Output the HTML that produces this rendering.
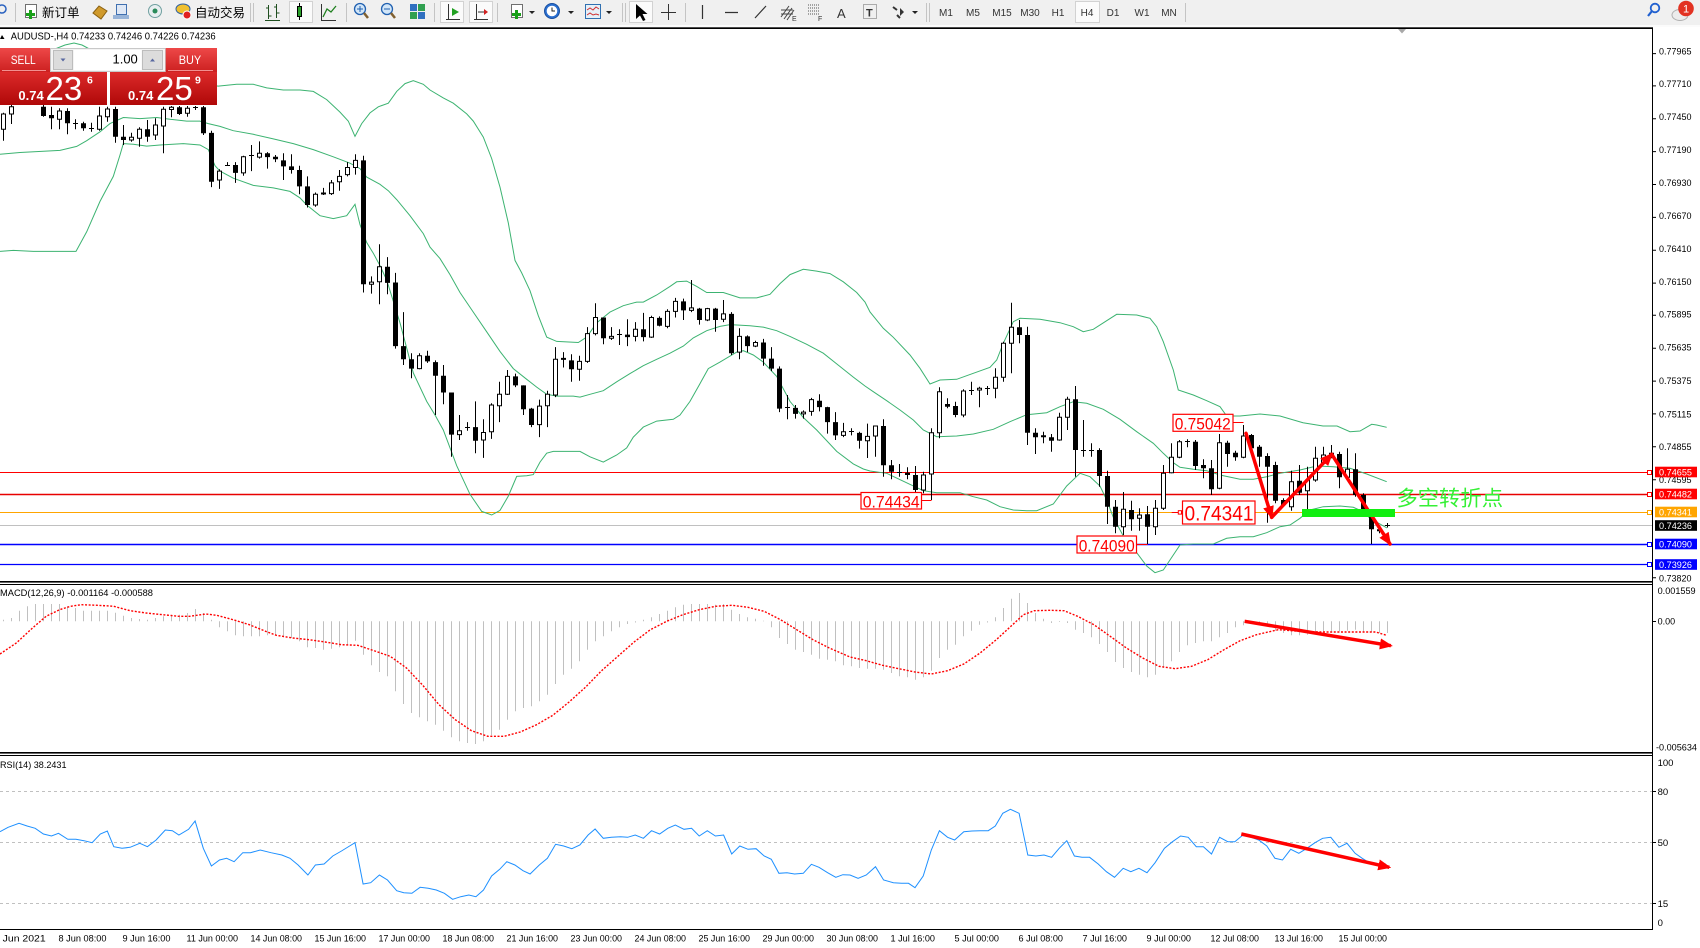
<!DOCTYPE html>
<html><head><meta charset="utf-8"><style>
html,body{margin:0;padding:0;background:#fff;}
svg{display:block;}
text{font-family:"Liberation Sans","Noto Sans CJK SC",sans-serif;}
</style></head><body>
<svg xmlns="http://www.w3.org/2000/svg" width="1700" height="948" viewBox="0 0 1700 948">
<defs>
<linearGradient id="gBtn" x1="0" y1="0" x2="0" y2="1"><stop offset="0" stop-color="#ee4848"/><stop offset="1" stop-color="#cc2020"/></linearGradient>
<linearGradient id="gPr" x1="0" y1="0" x2="0" y2="1"><stop offset="0" stop-color="#dc2a2a"/><stop offset="1" stop-color="#b00808"/></linearGradient>
<marker id="ah" markerWidth="13" markerHeight="11" refX="11" refY="5.5" orient="auto" markerUnits="userSpaceOnUse"><path d="M0,0 L13,5.5 L0,11 Z" fill="#ff0000"/></marker>
</defs>
<rect width="1700" height="948" fill="#fff"/>

<!-- TOOLBAR -->
<rect x="0" y="0" width="1700" height="25" fill="#f0f0f0"/>
<rect x="0" y="25" width="1700" height="2" fill="#fbfbfb"/>
<rect x="0" y="27.3" width="1653" height="1.7" fill="#000"/>
<g stroke="#c4c4c4" stroke-width="1">
<path d="M15.5 3V22M250.5 3V22M253.5 3V22M346.5 3V22M434.5 3V22M497.5 3V22M622.5 3V22M625.5 3V22M685.5 3V22M926.5 3V22M929.5 3V22M1185.5 3V22"/>
</g>
<!-- highlight boxes -->
<g fill="#fbfbfb" stroke="#d2d2d2">
<rect x="289.5" y="1.5" width="23" height="21"/>
<rect x="440.5" y="1.5" width="23" height="21"/>
<rect x="469.5" y="1.5" width="23" height="21"/>
<rect x="629.5" y="1.5" width="23" height="21"/>
<rect x="1075.5" y="1.5" width="24" height="21"/>
</g>
<!-- icons -->
<circle cx="2" cy="9" r="4" fill="none" stroke="#2a62c0" stroke-width="1.5"/>
<rect x="25.5" y="4.5" width="11" height="13" fill="#fff" stroke="#707070"/>
<rect x="26" y="13" width="9" height="3" fill="#1aa01a"/><rect x="29" y="10" width="3" height="9" fill="#1aa01a"/>
<text x="42" y="17" font-size="12.5" fill="#000">新订单</text>
<polygon points="93,13 99,6 107,11 101,19" fill="#d09a2c" stroke="#8a6010"/>
<rect x="116.5" y="4.5" width="10" height="10" fill="#dfe8f5" stroke="#4070b0"/><rect x="113" y="15" width="16" height="4" fill="#98b4d8"/>
<circle cx="155" cy="11" r="6.5" fill="#e8eef0" stroke="#70a0a0"/><circle cx="155" cy="11" r="2.5" fill="#2a8a5a"/>
<ellipse cx="183" cy="9" rx="7" ry="5" fill="#f0c030" stroke="#3060a0"/><circle cx="187" cy="15" r="4" fill="#e02020" stroke="#fff"/>
<text x="195" y="17" font-size="12.5" fill="#000">自动交易</text>
<path d="M268.5 5V19M266 8h2.5M268.5 16h3M276.5 4V18M274 7h2.5M276.5 13h3M265 20.5h15" stroke="#1f4f1f" fill="none"/>
<path d="M299.5 3V20" stroke="#000"/><rect x="297.5" y="6.5" width="4" height="10" fill="#2aa02a" stroke="#000"/>
<path d="M321.5 4V20.5H336" stroke="#333" fill="none"/><polyline points="323,17 327,9 331,12 336,6" stroke="#1f801f" fill="none" stroke-width="1.3"/>
<circle cx="360" cy="9" r="5.5" fill="#d2e6f8" stroke="#2060b0" stroke-width="1.3"/><path d="M357 9h6M360 6v6" stroke="#2060b0"/><path d="M364 13L368 18" stroke="#806030" stroke-width="2.5"/>
<circle cx="387" cy="9" r="5.5" fill="#d2e6f8" stroke="#2060b0" stroke-width="1.3"/><path d="M384 9h6" stroke="#2060b0"/><path d="M391 13L395 18" stroke="#806030" stroke-width="2.5"/>
<rect x="410" y="4" width="7" height="7" fill="#3070c0"/><rect x="418" y="4" width="7" height="7" fill="#30a050"/><rect x="410" y="12" width="7" height="7" fill="#30a050"/><rect x="418" y="12" width="7" height="7" fill="#3070c0"/>
<path d="M448.5 4V20M446 19.5h14" stroke="#333" fill="none"/><polygon points="452,8 459,12 452,16" fill="#20a020"/>
<path d="M476.5 4V20M474 19.5h14M478 12h7" stroke="#333" fill="none"/><polygon points="484,9 488,12 484,15" fill="#d02020"/>
<rect x="511.5" y="4.5" width="11" height="13" fill="#fff" stroke="#707070"/><rect x="512" y="13" width="9" height="3" fill="#1aa01a"/><rect x="515" y="10" width="3" height="9" fill="#1aa01a"/>
<polygon points="529,11 535,11 532,14" fill="#222"/>
<circle cx="552" cy="11" r="7.5" fill="#2a6fd0" stroke="#1a4f9f"/><circle cx="552" cy="11" r="5.3" fill="#fff"/><path d="M552 7.5V11H555" stroke="#222" fill="none"/>
<polygon points="568,11 574,11 571,14" fill="#222"/>
<rect x="585.5" y="4.5" width="15" height="14" fill="#e6f0f8" stroke="#3070b0"/><path d="M587 10l3-2 3 2 3-3 3 2M587 15l3-2 3 2 3-1 3 1" stroke="#d03030" fill="none"/>
<polygon points="606,11 612,11 609,14" fill="#222"/>
<polygon points="636,4 636,19 640,15.5 643,21 645.5,20 642.5,14 647.5,14" fill="#000"/>
<path d="M668.5 4V20M661 12.5h15" stroke="#333"/>
<path d="M702.5 5V19M725 12.5h13M755 18L766 6" stroke="#333" stroke-width="1.2"/>
<path d="M781 17l8-11M784 19l8-11M787 20l7-10M781 10h12M781 14h12" stroke="#444" fill="none"/><text x="792" y="21" font-size="7" fill="#333">E</text>
<path d="M808 5h12M808 8h12M808 11h12M808 14h12" stroke="#555" stroke-dasharray="1 1"/><text x="818" y="21" font-size="7" fill="#333">F</text>
<text x="837" y="18" font-size="13" fill="#333">A</text>
<rect x="863.5" y="4.5" width="13" height="14" fill="none" stroke="#666" stroke-dasharray="1 1"/><text x="866" y="16.5" font-size="11" font-weight="bold" fill="#333">T</text>
<path d="M893 7l4 3M897 15l3 3" stroke="#333" stroke-width="2"/><polygon points="900,8 904,12 900,16" fill="#333"/>
<polygon points="912,11 918,11 915,14" fill="#222"/>
<g font-size="10" fill="#333" text-anchor="middle">
<text x="946" y="16">M1</text><text x="973" y="16">M5</text><text x="1002" y="16">M15</text><text x="1030" y="16">M30</text><text x="1058" y="16">H1</text><text x="1087" y="16">H4</text><text x="1113" y="16">D1</text><text x="1142" y="16">W1</text><text x="1169" y="16">MN</text>
</g>
<circle cx="1655" cy="8" r="4.3" fill="none" stroke="#2060d0" stroke-width="1.8"/><path d="M1652 11L1648 16" stroke="#2060d0" stroke-width="2.2"/>
<ellipse cx="1680" cy="15" rx="8" ry="5.5" fill="#ececec" stroke="#b0b0b0"/>
<circle cx="1686" cy="8.5" r="7.8" fill="#e23222"/><text x="1686" y="12.5" font-size="11" fill="#fff" text-anchor="middle">1</text>

<!-- MAIN CHART horizontal lines -->
<path d="M0 472.5H1648" stroke="#ff0000" stroke-width="1"/>
<path d="M0 494.5H1648" stroke="#e80000" stroke-width="1.4"/>
<path d="M0 512.5H1648" stroke="#ffa500" stroke-width="1"/>
<path d="M0 525.5H1653" stroke="#c0c0c0" stroke-width="1"/>
<path d="M0 544.5H1648" stroke="#0000ff" stroke-width="1.4"/>
<path d="M0 564.5H1648" stroke="#0000ff" stroke-width="1.2"/>
<g fill="#fff" stroke-width="1">
<rect x="1647.5" y="470.5" width="4" height="4" stroke="#ff0000"/>
<rect x="1647.5" y="492.5" width="4" height="4" stroke="#ff0000"/>
<rect x="1647.5" y="510.5" width="4" height="4" stroke="#ffa500"/>
<rect x="1647.5" y="542.5" width="4" height="4" stroke="#0000ff"/>
<rect x="1647.5" y="562.5" width="4" height="4" stroke="#0000ff"/>
</g>

<!-- Bollinger bands -->
<g fill="none" stroke="#3cb371" stroke-width="1">
<polyline points="0,70 40,55 65,45 74,43 82,45 110,60 150,75 200,84 218.3,86.1 236.7,84.3 253.3,84.3 266.7,87.9 283.3,90 300,90 313.3,91.4 326.7,99.6 340,112.1 348.3,121.1 355,136.4 361.7,123.6 370,112.9 378.3,106.8 388.3,103.2 396.7,91.4 405,83.6 413.3,80.7 423.3,84.3 430,90 443.3,97.9 453.3,103.2 466.7,113.9 473.3,121.1 483.3,137.1 491.7,158.6 500,187.1 508.3,222.9 515,260.4 521.7,272.9 530,290.7 538.3,315.7 546.7,337.1 556.7,341.4 578.3,342.5 586.7,337.1 596.7,322.9 610,312.1 623.3,305.7 636.7,302.1 643.3,302.1 656.7,295 670,286.4 676.7,281.8 686.7,281.1 696.7,286.4 706.7,292.5 723.3,292.5 740,297.9 756.7,297.9 770,294.3 780,283.6 790,274.6 803.3,269.3 816.7,271.1 830,273.6 843.3,281.8 856.7,292.5 865,302 870,312 883.3,328.3 893.3,337.3 910,355 920,368.3 930,384 940,380 956.7,379.3 973.3,373.3 990,367.3 996.7,360 1003.3,343.3 1013.3,321.7 1020,318.3 1040,319.3 1060,322.7 1073.3,326.7 1083.3,331.7 1093.3,329.3 1106.7,320.7 1116.7,314.3 1136.7,315 1150,318.3 1156.7,326.7 1163.3,341.7 1173.3,370 1178.3,390 1193.3,395 1206.7,400.7 1220,406.7 1226.7,416 1240,416 1260,414 1280,416 1303,422.7 1323,426 1337,426 1350,431.7 1360,431 1371.7,424.3 1376.7,425 1386.7,427.3"/>
<polyline points="0,154.3 20,152.5 60,150.4 76.7,146.4 86.7,140.7 100,131.8 110,123.6 123.3,117.5 140,118.6 156.7,117.5 170,119.3 186.7,121.1 200,121.1 208.3,123.6 220,126.4 233.3,130.7 253.3,134.3 273.3,138.9 293.3,143.6 313.3,149.6 333.3,156.8 350,163.2 360,168.6 366.7,177.1 380,184.3 388.3,190.7 396.7,199.6 410,215.7 423.3,233.6 430,247.1 440,258.6 450,274.6 460,292.5 473.3,312.1 486.7,331.8 500,351.4 513.3,368.6 526.7,379.3 536.7,387.1 546.7,394.3 556.7,396.1 573.3,396.1 580,397.1 590,394.3 603.3,390.7 616.7,381.8 630,373.6 643.3,365.7 656.7,359.3 670,353.2 683.3,346.1 693.3,337.9 706.7,330.7 720,326.4 730,324.6 736.7,325 750,325.7 763.3,327.1 776.7,330.7 790,336.4 806.7,344.3 823.3,353.2 836.7,363.9 853.3,377.1 865,386 873.3,391.7 886.7,400.7 900,410 913.3,420 923.3,430 936.7,436.7 956.7,436 973.3,434 993.3,429.3 1010,421.7 1026.7,414.7 1046.7,412.7 1060,406.7 1073.3,401.7 1086.7,403.3 1103.3,409.3 1120,419.3 1136.7,431.7 1153.3,443.3 1163.3,453.3 1173.3,462.7 1180,467.3 1193.3,469.3 1206.7,470.7 1220,475 1240,479.3 1253.3,479.3 1266.7,476.7 1280,473.3 1300,470 1316.7,466 1333.3,466.7 1350,468.3 1366.7,474 1386.7,481.7"/>
<polyline points="0,251.4 13.3,250.4 33.3,251.4 76,251.4 86.7,231.8 100,201.4 113.3,176.4 120,155 123.3,143.6 133.3,144.3 146.7,146.1 160,145 183.3,143.6 200,145 208.3,149.6 215,165.7 220,171.1 233.3,178.2 253.3,185.4 273.3,187.9 290,191.4 300,197.9 306.7,205 320,215.7 333.3,218.6 346.7,215.7 355,204.3 360,224.6 366.7,242.5 373.3,253.2 380,265.7 386.7,280 400,322.9 413.3,372.9 426.7,401.4 435,415 443.3,430 456.7,465.7 470,494.3 481.7,511.4 491.7,515 500,510.4 508.3,496.1 516.7,476.4 526.7,475.7 533.3,474.6 540,462.1 546.7,453.2 553.3,451.4 580,451.4 590,456.8 603.3,462.1 616.7,455 626.7,447.9 633.3,437.1 643.3,427.1 656.7,421.1 673.3,419.3 680,415 690,401.4 700,383.6 708.3,368.6 720,362.1 736.7,352.1 743.3,350.7 753.3,355 763.3,362.1 776.7,376.4 790,401.4 803.3,417.5 816.7,430 836.7,451.4 853.3,463.9 863.3,469 870,471 886.7,473.3 923.3,490.7 936.7,492.7 960,492.7 973.3,496.7 986.7,500 1000,506.7 1013.3,510 1026.7,510.7 1036.7,510.7 1053.3,504 1066.7,486 1080,473.3 1090,476.7 1100,486 1106.7,500 1113.3,517.3 1123.3,536 1136.7,552.7 1146.7,566 1155,572.7 1163.3,570 1173.3,555 1180,545 1193.3,544 1213.3,544 1226.7,538.3 1240,536.7 1253.3,536.7 1266.7,532.7 1280,526.7 1290,525 1300,518.3 1310,510 1323.3,506.7 1340,506 1353.3,507.3 1363.3,511.7 1370,518.3 1387,528"/>
</g>

<!-- CANDLES: wicks -->
<path fill="none" stroke="#000" stroke-width="1" d="M3.5 112.7V140.7M11.5 105V124M43.5 105V116.7M51.5 106.7V129.3M59.5 108.3V129.3M67.5 108.3V134.3M75.5 119.3V129.3M83.5 121.7V130.7M91.5 122.7V131.7M99.5 106.7V130.7M107.5 106.7V121.7M115.5 106.7V142.7M123.5 125V145M131.5 132.7V141.7M139.5 127.3V146.7M147.5 120V141.7M155.5 118.3V140M163.5 106.7V153.3M171.5 106V117.3M179.5 106V115M187.5 106V116.7M195.5 106V110M203.5 106V135M211.5 130.7V187.1M219.5 169.3V188.9M227.5 162.1V165.7M235.5 162.1V182.9M243.5 155.7V175.7M251.5 145V171.1M259.5 141.4V158.6M267.5 152.1V168.6M275.5 155V162.1M283.5 153.2V180M291.5 154.3V173.6M299.5 165.7V194.3M307.5 176.4V207.5M315.5 192.5V206.8M323.5 187.9V195M331.5 180V195M339.5 170V190.7M347.5 162.1V176.4M355.5 154.3V174.6M363.5 155.7V292.5M371.5 276.4V293.6M379.5 244.3V304.3M387.5 257.1V294.3M395.5 272.9V348.6M403.5 312.1V365M411.5 353.2V378.2M419.5 353.2V369.3M427.5 350.7V362.9M435.5 360.4V415M443.5 365V404.3M451.5 392.5V456.8M459.5 415V440M467.5 422.1V430.7M475.5 401.4V453.2M483.5 419.3V457.9M491.5 403.2V438.9M499.5 381.8V422.1M507.5 370V395M515.5 373.6V387.1M523.5 385.4V415M531.5 407.9V427.1M539.5 399.6V437.1M547.5 390.7V427.1M555.5 347.1V397.1M563.5 352.1V367.5M571.5 354.3V381.8M579.5 355.7V380.7M587.5 327.1V362.9M595.5 303.2V335.4M603.5 317.5V344.3M611.5 327.1V340M619.5 329.3V345M627.5 319.3V346.1M635.5 322.1V341.4M643.5 312.9V341.4M651.5 315.7V337.9M659.5 316.4V326.4M667.5 309.3V328.2M675.5 297.9V317.5M683.5 298.6V320M691.5 280V312.1M699.5 307.9V324.6M707.5 307.9V321.1M715.5 307.9V331.8M723.5 300V322.1M731.5 312.1V355M739.5 328.2V359.3M747.5 335.4V352.1M755.5 340.7V347.1M763.5 338.9V365.7M771.5 347.1V371.1M779.5 366.4V412.1M787.5 395V419.3M795.5 405V418.6M803.5 410.4V418.6M811.5 397.9V415.7M819.5 394.3V411.4M827.5 406.8V433.6M835.5 412.1V440M843.5 422.9V437.1M851.5 428.2V435.4M859.5 431.8V448.6M867.5 423.6V458M875.5 426V456.7M883.5 419.3V476.7M891.5 460V479.3M899.5 464V476.7M907.5 467.3V479.3M915.5 466V492.7M923.5 471.7V493.3M931.5 428.3V500M939.5 387.3V438.3M947.5 398.3V408.3M955.5 401.7V417.3M963.5 389.3V417.3M971.5 381.7V395M979.5 386.7V407.3M987.5 386V395M995.5 368.3V398.3M1003.5 341.7V381.7M1011.5 302.7V373.3M1019.5 320V343.3M1027.5 326.7V445M1035.5 428.3V454M1043.5 431.7V443.3M1051.5 434V451.7M1059.5 412.7V440.7M1067.5 396.7V430M1075.5 386V476.7M1083.5 420V456.7M1091.5 443.3V456.7M1099.5 448.3V486.7M1107.5 470.7V524M1115.5 500V533.3M1123.5 492V535M1131.5 500.7V530.7M1139.5 508.3V530.7M1147.5 506V544M1155.5 500V535M1163.5 465V510M1171.5 443.3V473.3M1179.5 440V458.3M1187.5 439.3V447.3M1195.5 440V470M1203.5 459.3V478.3M1211.5 460V495M1219.5 434V489.3M1227.5 440.7V466.7M1235.5 450.7V460.7M1243.5 425V458.3M1251.5 434V453.3M1259.5 445V466.7M1267.5 453.3V522.7M1275.5 461.7V503.3M1283.5 498.3V506.7M1291.5 470.7V510.7M1299.5 465V495M1307.5 466.7V510M1315.5 446.7V481.7M1323.5 446.7V465M1331.5 445V458.3M1339.5 451.7V488.3M1347.5 448.3V480M1355.5 453.3V496.7M1363.5 493.3V511.7M1371.5 510V544M1379.5 526.7V533.3M1387.5 523V527.5"/>
<!-- black bodies -->
<path fill="#000" d="M41 106.7h5V116h-5ZM49 115h5V118.3h-5ZM65 111h5V123.3h-5ZM81 123.3h5V128.3h-5ZM113 109h5V136.7h-5ZM121 136.7h5V140h-5ZM145 129.3h5V136.7h-5ZM177 107.3h5V114h-5ZM201 107.3h5V133.3h-5ZM209 132.9h5V181.8h-5ZM233 165h5V172.9h-5ZM265 153.2h5V157.1h-5ZM273 156.8h5V159.3h-5ZM281 160.4h5V166.4h-5ZM289 166.4h5V170h-5ZM297 170h5V186.4h-5ZM305 186.4h5V205h-5ZM321 192.5h5V194.5h-5ZM361 160.4h5V284.3h-5ZM385 266.8h5V282.9h-5ZM393 282.5h5V346.1h-5ZM401 346.1h5V359.3h-5ZM409 359.3h5V368.6h-5ZM425 355.7h5V361.4h-5ZM433 362.1h5V375.7h-5ZM441 375.7h5V392.5h-5ZM449 392.5h5V434.6h-5ZM473 427.1h5V440.7h-5ZM513 376.4h5V385.4h-5ZM521 385.4h5V409.3h-5ZM529 408.6h5V425h-5ZM561 357.9h5V359.9h-5ZM569 360.4h5V369.3h-5ZM601 317.5h5V338.2h-5ZM625 334.6h5V337.1h-5ZM641 329.3h5V337.1h-5ZM657 317.9h5V325.7h-5ZM681 301.4h5V310.4h-5ZM697 308.6h5V320h-5ZM713 308.6h5V320h-5ZM729 313.9h5V353.2h-5ZM745 336.4h5V346.1h-5ZM761 342.5h5V358.6h-5ZM769 358.6h5V368.6h-5ZM777 368.6h5V408.6h-5ZM793 407.9h5V413.9h-5ZM817 400.7h5V407.1h-5ZM825 407.1h5V422.1h-5ZM833 422.1h5V435.4h-5ZM857 432.9h5V440.7h-5ZM881 426h5V465.3h-5ZM889 465.3h5V471.7h-5ZM905 472.7h5V475h-5ZM913 475h5V490h-5ZM945 404h5V406.7h-5ZM953 406h5V415h-5ZM1017 327.3h5V335h-5ZM1025 335h5V432.7h-5ZM1033 432.7h5V437.3h-5ZM1041 435.3h5V437.3h-5ZM1049 437.3h5V440.7h-5ZM1073 399.3h5V450h-5ZM1097 450h5V476h-5ZM1105 476h5V506.7h-5ZM1113 506.7h5V526.7h-5ZM1129 510h5V519.3h-5ZM1145 514.3h5V526.7h-5ZM1193 441.7h5V466h-5ZM1201 465h5V468.3h-5ZM1209 468.3h5V489.3h-5ZM1225 442.7h5V454h-5ZM1233 452.7h5V457.3h-5ZM1249 435h5V448.3h-5ZM1257 446.7h5V456.7h-5ZM1265 456h5V466.7h-5ZM1273 465h5V500.7h-5ZM1281 500h5V505h-5ZM1297 480.7h5V492.7h-5ZM1337 454h5V477.3h-5ZM1353 469.3h5V495h-5ZM1361 495h5V510h-5ZM1369 510h5V529.3h-5ZM1377 529.3h5V531.3h-5Z"/>
<!-- white bodies -->
<path fill="#fff" stroke="#000" stroke-width="1" d="M1.5 114h4V129.3h-4ZM9.5 106.7h4V114h-4ZM57.5 111h4V119.3h-4ZM97.5 116h4V129.3h-4ZM105.5 109h4V116.7h-4ZM129.5 137.3h4V140h-4ZM137.5 129.3h4V138.3h-4ZM153.5 125h4V135h-4ZM161.5 109.3h4V126h-4ZM169.5 107.3h4V109.5h-4ZM185.5 108.3h4V113.3h-4ZM217.5 171.1h4V180h-4ZM241.5 156.8h4V172.9h-4ZM257.5 153.2h4V157.1h-4ZM313.5 194.3h4V205h-4ZM329.5 182.9h4V193.6h-4ZM337.5 176.4h4V181.8h-4ZM345.5 167.5h4V174.6h-4ZM353.5 160.4h4V167.5h-4ZM369.5 282.1h4V284.3h-4ZM377.5 266.8h4V281.8h-4ZM417.5 355.7h4V368.6h-4ZM457.5 430.7h4V434.6h-4ZM481.5 432.5h4V440h-4ZM489.5 405h4V431.8h-4ZM497.5 394.3h4V405.7h-4ZM505.5 376.4h4V394.3h-4ZM537.5 406.1h4V424.6h-4ZM545.5 394.3h4V405.7h-4ZM553.5 359.3h4V395h-4ZM577.5 361.4h4V369.3h-4ZM585.5 333.6h4V361.4h-4ZM593.5 317.5h4V333.6h-4ZM609.5 336.4h4V338.2h-4ZM633.5 329.3h4V336.4h-4ZM649.5 317.5h4V337.1h-4ZM665.5 311.4h4V326.4h-4ZM673.5 301.4h4V311.4h-4ZM689.5 307.9h4V310.4h-4ZM705.5 308.6h4V320h-4ZM721.5 313.9h4V319.3h-4ZM737.5 336.4h4V352.1h-4ZM753.5 342.5h4V346.1h-4ZM801.5 412.1h4V413.9h-4ZM809.5 399.6h4V411.4h-4ZM841.5 431.8h4V435.4h-4ZM865.5 436.4h4V440.7h-4ZM873.5 426h4V436h-4ZM921.5 475h4V490h-4ZM929.5 432.7h4V474h-4ZM937.5 391.7h4V432.7h-4ZM961.5 391h4V415h-4ZM977.5 388.3h4V390h-4ZM993.5 377.3h4V388.3h-4ZM1001.5 343.3h4V377.3h-4ZM1009.5 327.3h4V343.3h-4ZM1057.5 417.3h4V440h-4ZM1065.5 399.3h4V417.3h-4ZM1121.5 509.3h4V526.7h-4ZM1137.5 515h4V518.3h-4ZM1153.5 508.3h4V526.7h-4ZM1161.5 473.3h4V508.3h-4ZM1169.5 457.3h4V472.7h-4ZM1177.5 441.7h4V457.3h-4ZM1217.5 442.7h4V488.3h-4ZM1241.5 436h4V457.3h-4ZM1289.5 481.7h4V506.7h-4ZM1305.5 480h4V490.7h-4ZM1313.5 458.3h4V480h-4ZM1321.5 455h4V463.3h-4ZM1329.5 453.3h4V456.7h-4ZM1345.5 469.3h4V477.3h-4Z"/>
<!-- dojis -->
<path fill="none" stroke="#000" stroke-width="1" d="M73 123.5h5M89 128.5h5M193 107.5h5M225 165.5h5M249 155.5h5M465 427.5h5M617 334.5h5M785 407.5h5M849 431.5h5M897 472.5h5M969 390.5h5M985 388.5h5M1081 450.5h5M1089 450.5h5M1185 441.5h5M1385 525.5h5"/>

<!-- price labels on chart -->
<g font-size="17" fill="#ff0000">
<path d="M921.7 500.5H931.5M1136.7 544.5H1147.5M1233.3 422.5H1243.5M1171.7 512.5H1182.3" stroke="#ff0000" stroke-width="1"/>
<rect x="1178.3" y="510.7" width="3.2" height="3.4" fill="#fff" stroke="#ff0000" stroke-width="1"/>
<rect x="861" y="492.5" width="60.5" height="16.5" fill="#fff" stroke="#ff0000" stroke-width="1.2"/>
<text x="862.7" y="507.5" textLength="57" lengthAdjust="spacingAndGlyphs">0.74434</text>
<rect x="1077" y="536" width="59.5" height="17" fill="#fff" stroke="#ff0000" stroke-width="1.2"/>
<text x="1078.7" y="551.5" textLength="56" lengthAdjust="spacingAndGlyphs">0.74090</text>
<rect x="1173" y="414.3" width="60" height="17" fill="#fff" stroke="#ff0000" stroke-width="1.2"/>
<text x="1174.7" y="429.3" textLength="56" lengthAdjust="spacingAndGlyphs">0.75042</text>
<rect x="1182.5" y="501" width="72.5" height="23" fill="#fff" stroke="#ff0000" stroke-width="1.2"/>
<text x="1184.5" y="520.7" font-size="21.5" textLength="69" lengthAdjust="spacingAndGlyphs">0.74341</text>
</g>

<!-- red arrows main -->
<g stroke="#ff0000" stroke-width="3.5" fill="none" stroke-linecap="round">
<line x1="1246" y1="433.3" x2="1271.7" y2="517.3" marker-end="url(#ah)"/>
<line x1="1271.7" y1="517.3" x2="1331.7" y2="454.3" marker-end="url(#ah)"/>
<line x1="1331.7" y1="454.3" x2="1390" y2="544" marker-end="url(#ah)"/>
</g>
<rect x="1302" y="509" width="93" height="8" fill="#11ee11"/>
<text x="1396.5" y="505.5" font-size="21.3" fill="#35f035" font-family="'Liberation Sans','Noto Sans CJK SC',sans-serif">多空转折点</text>
<polygon points="1398,29 1406,29 1402,33.5" fill="#a8a8a8"/>

<!-- title -->
<polygon points="0,39 4.5,39 2,35" fill="#000"/>
<text x="10.7" y="39.5" font-size="10" fill="#000" textLength="205" lengthAdjust="spacingAndGlyphs">AUDUSD-,H4  0.74233 0.74246 0.74226 0.74236</text>

<!-- SELL/BUY panel -->
<rect x="0" y="48" width="50" height="24" fill="url(#gBtn)"/>
<path d="M2 70.5H46" stroke="#f29090"/>
<rect x="50.5" y="48.5" width="115" height="23" fill="#f4f4f4" stroke="#c8c8c8"/>
<rect x="53.5" y="50.5" width="19" height="19" fill="#dcdcdc" stroke="#bdbdbd"/>
<rect x="74" y="50" width="67.5" height="20" fill="#fff"/>
<rect x="142.5" y="50.5" width="20" height="19" fill="#dcdcdc" stroke="#bdbdbd"/>
<polygon points="60.5,58.5 65.5,58.5 63,61.5" fill="#5868a0"/>
<polygon points="150,61.5 155,61.5 152.5,58.5" fill="#5868a0"/>
<text x="137.8" y="63.5" font-size="13" fill="#000" text-anchor="end">1.00</text>
<rect x="165.7" y="48" width="51.3" height="24" fill="url(#gBtn)"/>
<path d="M168 70.5H213" stroke="#f29090"/>
<text x="10.7" y="63.8" font-size="12" fill="#fff" textLength="25" lengthAdjust="spacingAndGlyphs">SELL</text>
<text x="178.7" y="63.8" font-size="12" fill="#fff" textLength="22.5" lengthAdjust="spacingAndGlyphs">BUY</text>
<rect x="0" y="72" width="107" height="33" fill="url(#gPr)"/>
<rect x="110" y="72" width="107" height="33" fill="url(#gPr)"/>
<g fill="#fff">
<text x="18.4" y="100" font-size="13" font-weight="bold">0.74</text>
<text x="45.5" y="100" font-size="33">23</text>
<text x="87" y="83.5" font-size="10.5" font-weight="bold">6</text>
<text x="128" y="100" font-size="13" font-weight="bold">0.74</text>
<text x="156" y="100" font-size="33">25</text>
<text x="195" y="83.5" font-size="10.5" font-weight="bold">9</text>
</g>

<!-- PANEL borders -->
<rect x="0" y="581" width="1653" height="1.6" fill="#000"/>
<rect x="0" y="584" width="1653" height="1" fill="#000"/>
<rect x="0" y="752" width="1653" height="1.6" fill="#000"/>
<rect x="0" y="755" width="1653" height="1" fill="#000"/>
<rect x="0" y="929" width="1653" height="1" fill="#000"/>
<rect x="1652" y="28" width="1" height="902" fill="#000"/>

<!-- MACD -->
<text x="0" y="596" font-size="9.5" fill="#000" textLength="153" lengthAdjust="spacingAndGlyphs">MACD(12,26,9) -0.001164 -0.000588</text>
<path fill="none" stroke="#c0c0c0" stroke-width="1" d="M3.5 621.3V619.7M11.5 621.3V618M19.5 621.3V610.7M27.5 621.3V606.3M35.5 621.3V604M43.5 621.3V604M51.5 621.3V604M59.5 621.3V604M67.5 621.3V606.3M75.5 621.3V608M83.5 621.3V610.7M91.5 621.3V610.7M99.5 621.3V610.7M107.5 621.3V610.7M115.5 621.3V612.7M123.5 621.3V615.7M131.5 621.3V618M139.5 621.3V619M147.5 621.3V619.7M155.5 621.3V618M163.5 621.3V616.3M171.5 621.3V614.7M179.5 621.3V614.7M187.5 621.3V613M195.5 621.3V609M203.5 621.3V613M211.5 621.3V619.7M219.5 621.3V627.3M227.5 621.3V631.3M235.5 621.3V635.3M243.5 621.3V636.3M251.5 621.3V636.3M259.5 621.3V636.3M267.5 621.3V635.3M275.5 621.3V635.3M283.5 621.3V637.3M291.5 621.3V638M299.5 621.3V641.3M307.5 621.3V647.3M315.5 621.3V648M323.5 621.3V649.7M331.5 621.3V648.7M339.5 621.3V647.3M347.5 621.3V645.3M355.5 621.3V640.7M363.5 621.3V654.7M371.5 621.3V665.3M379.5 621.3V672M387.5 621.3V676.3M395.5 621.3V691.3M403.5 621.3V704M411.5 621.3V713M419.5 621.3V717.3M427.5 621.3V721.3M435.5 621.3V724.7M443.5 621.3V730.7M451.5 621.3V737.3M459.5 621.3V741.3M467.5 621.3V743M475.5 621.3V744M483.5 621.3V741.3M491.5 621.3V735.3M499.5 621.3V729.7M507.5 621.3V719.7M515.5 621.3V711.3M523.5 621.3V708M531.5 621.3V706.3M539.5 621.3V701.3M547.5 621.3V694.7M555.5 621.3V684M563.5 621.3V674.7M571.5 621.3V668.7M579.5 621.3V661.3M587.5 621.3V649.7M595.5 621.3V641.3M603.5 621.3V636.3M611.5 621.3V631.3M619.5 621.3V627.3M627.5 621.3V624M635.5 621.3V622.5M643.5 621.3V619.7M651.5 621.3V617.3M659.5 621.3V614M667.5 621.3V610.7M675.5 621.3V607.3M683.5 621.3V604.7M691.5 621.3V604M699.5 621.3V604M707.5 621.3V604M715.5 621.3V604.7M723.5 621.3V604M731.5 621.3V609.7M739.5 621.3V614M747.5 621.3V617.3M755.5 621.3V618.7M763.5 621.3V620.7M771.5 621.3V627.3M779.5 621.3V638M787.5 621.3V644M795.5 621.3V649.7M803.5 621.3V652M811.5 621.3V654.7M819.5 621.3V658.7M827.5 621.3V659.7M835.5 621.3V661.3M843.5 621.3V665.3M851.5 621.3V666.3M859.5 621.3V668M867.5 621.3V668.7M875.5 621.3V668.7M883.5 621.3V669.7M891.5 621.3V673M899.5 621.3V676.3M907.5 621.3V677.3M915.5 621.3V679.7M923.5 621.3V677.3M931.5 621.3V670.7M939.5 621.3V658M947.5 621.3V649.7M955.5 621.3V644.7M963.5 621.3V636.3M971.5 621.3V630.7M979.5 621.3V624.7M987.5 621.3V622.5M995.5 621.3V617.3M1003.5 621.3V608M1011.5 621.3V598.7M1019.5 621.3V593M1027.5 621.3V603M1035.5 621.3V613M1043.5 621.3V618.7M1051.5 621.3V623M1059.5 621.3V622M1067.5 621.3V623M1075.5 621.3V629.7M1083.5 621.3V633M1091.5 621.3V637.3M1099.5 621.3V644M1107.5 621.3V652M1115.5 621.3V662M1123.5 621.3V668M1131.5 621.3V672M1139.5 621.3V674.7M1147.5 621.3V677.3M1155.5 621.3V674.7M1163.5 621.3V668M1171.5 621.3V661.3M1179.5 621.3V652M1187.5 621.3V645.3M1195.5 621.3V643M1203.5 621.3V641.3M1211.5 621.3V641.3M1219.5 621.3V637.3M1227.5 621.3V633M1235.5 621.3V627.3M1243.5 621.3V625.3M1251.5 621.3V624M1259.5 621.3V624.7M1267.5 621.3V626.3M1275.5 621.3V630.7M1283.5 621.3V633M1291.5 621.3V635.3M1299.5 621.3V635.3M1307.5 621.3V634.7M1315.5 621.3V632.7M1323.5 621.3V631.3M1331.5 621.3V631.3M1339.5 621.3V631.3M1347.5 621.3V630.7M1355.5 621.3V629.7M1363.5 621.3V632M1371.5 621.3V632M1379.5 621.3V633M1387.5 621.3V633"/>
<polyline fill="none" stroke="#ff0000" stroke-width="1.4" stroke-dasharray="2 1.6" points="0,654 16.3,643 32.5,628 46.1,616.3 59.6,609.7 70.5,606.3 81.3,604.7 97.6,605.3 113.8,606.3 130.1,610.7 146.3,613 162.6,614.7 178.9,616.3 189.7,616.3 206,614 216.8,615.3 233.1,619.7 249.3,624.7 265.6,631.3 276.4,635.3 292.7,638 308.9,639.7 325.2,642 341.5,644.7 357.7,645.3 374,650.7 390.2,656.3 406.5,668 422.8,685.3 439,704.7 455.3,719.7 471.5,730.7 487.8,736.3 504.1,736.3 520.3,732 536.6,724.7 552.8,715.3 569.1,702 585.4,687.3 601.6,670.7 617.9,656.3 634.1,642 650.4,629.7 666.7,621.3 682.9,614.7 699.2,609.7 715.4,606.3 731.7,605.3 748,607.3 764.2,611.3 780.5,619.7 796.7,629.7 813,639.7 829.3,648 850,657 866.3,660.7 882.5,665.3 898.8,668.7 915,672 931.3,674 947.6,670.7 963.8,664 980.1,653 996.3,639.7 1012.6,624.7 1023.4,614.7 1034.3,610.7 1050.5,610.3 1064.1,610.7 1077.6,616.3 1093.9,624.7 1110.2,636.3 1126.4,648 1142.7,658 1158.9,666.3 1175.2,668.7 1191.5,666.3 1207.7,659.7 1224,649.7 1240.2,640.7 1256.5,634.7 1278.2,629.7 1299.9,631.3 1321.5,632 1348.6,632 1375.7,632 1386.6,635.3"/>
<line x1="1244.6" y1="621.3" x2="1390.9" y2="645.7" stroke="#ff0000" stroke-width="3.5" marker-end="url(#ah)"/>

<!-- RSI -->
<text x="0" y="768" font-size="9.5" fill="#000" textLength="66.5" lengthAdjust="spacingAndGlyphs">RSI(14) 38.2431</text>
<g stroke="#c0c0c0" stroke-width="1" stroke-dasharray="3 3">
<path d="M0 791.5H1652M0 842.5H1652M0 903.5H1652"/>
</g>
<polyline fill="none" stroke="#1e90ff" stroke-width="1" points="0,831.7 8.1,827.3 19,823.3 27.1,826 35.2,828.3 43.4,834 51.5,836 58.5,833.3 67.8,839.3 75.9,839.3 84,840.7 92.1,842.7 100.3,834 107.3,831 113.8,846.7 122,848.3 130.1,847.3 139.8,843.3 147.4,846.7 156.1,840 165.3,830 172.4,830.7 178.9,835 188.6,829.3 195.1,821 203.3,848.3 211.4,866 219.5,860 226.6,858.3 234.1,861.7 242.8,852.7 250.4,852.7 260.2,850 271,852.7 281.8,855 290,858.3 298.1,865 307.9,875 315.4,865 324.1,864 332.8,856 341.5,851 349.6,846 355,842.7 363.1,884 370.7,882.7 379.4,875 387.5,880 396.7,890.7 403.8,892.7 411.9,893.3 420.1,887.3 428.2,888.3 436.3,890 444.4,893.3 452.6,899.3 460.7,896.7 468.8,895 475.9,896.7 483.5,890 491.6,876 499.7,869.3 506.8,861.7 514.9,865 523,870.7 530.1,874 539.3,865 547.4,858.3 555.6,844.3 563.7,846 571.8,848.7 579.9,845 588.1,835 595.1,829 603.3,838.3 611.4,837.3 620.6,836.7 627.6,837.3 635.2,835 643.4,838.3 651.5,830.7 659.6,834 667.8,828.3 675.3,825 684,829.3 691.6,828.3 699.2,836 707.3,830.7 715.4,836 723.6,835 731.7,854 739.8,846 748,849.3 756.1,848.7 764.2,856 771.3,859.3 778.9,873.3 787,872.7 794.6,874 803.3,873.3 811.4,864.3 819,867.3 827.6,872.7 835.8,877.3 842.8,874.7 850,875 858.1,878.3 866.3,875 875.5,866.7 883.6,880 893.4,882.7 901.5,883.3 908.5,883.3 915,887.7 923.2,876 931.3,850 939.4,830.7 947.6,837.3 954.6,840 963.8,831.7 972,831 980.1,830.7 988.2,830.7 995.3,826 1002.8,813.3 1010.4,809.3 1019.1,813.3 1027.8,855 1035.9,856 1044,855 1051.6,857.3 1059.2,848.3 1066.8,840.7 1074.4,856 1082,857.3 1089.6,857.3 1098.2,864 1106.4,871.7 1114.5,877.3 1123.2,868.3 1130.8,871.7 1138.9,868.3 1147,872.7 1155.1,862.7 1164.4,848.3 1172.5,841.7 1180.6,836 1188.2,837.3 1196.3,846.7 1203.4,846.7 1211.5,854 1219.6,837.3 1227.8,841.7 1234.8,841.7 1242.9,835 1251.1,837.3 1258.7,840 1266.8,846 1274.9,858.3 1282.5,860 1290.7,849.3 1298.8,853.3 1306.9,848.3 1315,842.7 1322.6,838.3 1330.8,837.3 1338.9,847.3 1347,843.3 1355.1,853.3 1362.2,858.3 1370.3,863.3 1378.5,866 1386,864"/>
<line x1="1241.3" y1="834" x2="1389.3" y2="867.3" stroke="#ff0000" stroke-width="3.5" marker-end="url(#ah)"/>

<!-- PRICE AXIS -->
<path stroke="#000" stroke-width="1" d="M1653 53.6h3M1653 85.9h3M1653 118.8h3M1653 151.6h3M1653 184.5h3M1653 217.4h3M1653 250.2h3M1653 283.1h3M1653 315.3h3M1653 348.2h3M1653 381.1h3M1653 413.9h3M1653 446.8h3M1653 479.7h3M1653 577.7h3M1653 621.5h3M1653 791.5h3M1653 842.5h3M1653 903.5h3"/>
<g font-size="9.5" fill="#000">
<text x="1659" y="54.5" textLength="32.5" lengthAdjust="spacingAndGlyphs">0.77965</text>
<text x="1659" y="87" textLength="32.5" lengthAdjust="spacingAndGlyphs">0.77710</text>
<text x="1659" y="120" textLength="32.5" lengthAdjust="spacingAndGlyphs">0.77450</text>
<text x="1659" y="153" textLength="32.5" lengthAdjust="spacingAndGlyphs">0.77190</text>
<text x="1659" y="186" textLength="32.5" lengthAdjust="spacingAndGlyphs">0.76930</text>
<text x="1659" y="219" textLength="32.5" lengthAdjust="spacingAndGlyphs">0.76670</text>
<text x="1659" y="252" textLength="32.5" lengthAdjust="spacingAndGlyphs">0.76410</text>
<text x="1659" y="285" textLength="32.5" lengthAdjust="spacingAndGlyphs">0.76150</text>
<text x="1659" y="317.5" textLength="32.5" lengthAdjust="spacingAndGlyphs">0.75895</text>
<text x="1659" y="350.5" textLength="32.5" lengthAdjust="spacingAndGlyphs">0.75635</text>
<text x="1659" y="384" textLength="32.5" lengthAdjust="spacingAndGlyphs">0.75375</text>
<text x="1659" y="417.3" textLength="32.5" lengthAdjust="spacingAndGlyphs">0.75115</text>
<text x="1659" y="450" textLength="32.5" lengthAdjust="spacingAndGlyphs">0.74855</text>
<text x="1659" y="483" textLength="32.5" lengthAdjust="spacingAndGlyphs">0.74595</text>
<text x="1659" y="581.5" textLength="32.5" lengthAdjust="spacingAndGlyphs">0.73820</text>
<text x="1657.6" y="594" textLength="38" lengthAdjust="spacingAndGlyphs">0.001559</text>
<text x="1657.6" y="624.6" textLength="17.5" lengthAdjust="spacingAndGlyphs">0.00</text>
<text x="1656" y="750.3" textLength="41" lengthAdjust="spacingAndGlyphs">-0.005634</text>
<text x="1657.6" y="766">100</text>
<text x="1657.6" y="795">80</text>
<text x="1657.6" y="846">50</text>
<text x="1657.6" y="906.8">15</text>
<text x="1657.6" y="925.8">0</text>
</g>
<g font-size="9.5" fill="#fff">
<rect x="1655" y="466.7" width="42" height="10.6" fill="#ff0000"/><text x="1659" y="475.5" textLength="33" lengthAdjust="spacingAndGlyphs">0.74655</text>
<rect x="1655" y="488.7" width="42" height="10.6" fill="#ff0000"/><text x="1659" y="497.5" textLength="33" lengthAdjust="spacingAndGlyphs">0.74482</text>
<rect x="1655" y="506.7" width="42" height="10.6" fill="#ffa500"/><text x="1659" y="515.5" textLength="33" lengthAdjust="spacingAndGlyphs">0.74341</text>
<rect x="1655" y="520.2" width="42" height="10.6" fill="#000"/><text x="1659" y="529" textLength="33" lengthAdjust="spacingAndGlyphs">0.74236</text>
<rect x="1655" y="538.7" width="42" height="10.6" fill="#0000ff"/><text x="1659" y="547.5" textLength="33" lengthAdjust="spacingAndGlyphs">0.74090</text>
<rect x="1655" y="559.2" width="42" height="10.6" fill="#0000ff"/><text x="1659" y="568" textLength="33" lengthAdjust="spacingAndGlyphs">0.73926</text>
</g>

<!-- TIME AXIS -->
<g font-size="9.5" fill="#000">
<text x="2.7" y="941.7" textLength="43" lengthAdjust="spacingAndGlyphs">Jun 2021</text>
<text x="58.5" y="941.7" textLength="48" lengthAdjust="spacingAndGlyphs">8 Jun 08:00</text>
<text x="122.5" y="941.7" textLength="48" lengthAdjust="spacingAndGlyphs">9 Jun 16:00</text>
<text x="186.5" y="941.7" textLength="51.5" lengthAdjust="spacingAndGlyphs">11 Jun 00:00</text>
<text x="250.5" y="941.7" textLength="51.5" lengthAdjust="spacingAndGlyphs">14 Jun 08:00</text>
<text x="314.5" y="941.7" textLength="51.5" lengthAdjust="spacingAndGlyphs">15 Jun 16:00</text>
<text x="378.5" y="941.7" textLength="51.5" lengthAdjust="spacingAndGlyphs">17 Jun 00:00</text>
<text x="442.5" y="941.7" textLength="51.5" lengthAdjust="spacingAndGlyphs">18 Jun 08:00</text>
<text x="506.5" y="941.7" textLength="51.5" lengthAdjust="spacingAndGlyphs">21 Jun 16:00</text>
<text x="570.5" y="941.7" textLength="51.5" lengthAdjust="spacingAndGlyphs">23 Jun 00:00</text>
<text x="634.5" y="941.7" textLength="51.5" lengthAdjust="spacingAndGlyphs">24 Jun 08:00</text>
<text x="698.5" y="941.7" textLength="51.5" lengthAdjust="spacingAndGlyphs">25 Jun 16:00</text>
<text x="762.5" y="941.7" textLength="51.5" lengthAdjust="spacingAndGlyphs">29 Jun 00:00</text>
<text x="826.5" y="941.7" textLength="51.5" lengthAdjust="spacingAndGlyphs">30 Jun 08:00</text>
<text x="890.5" y="941.7" textLength="44.5" lengthAdjust="spacingAndGlyphs">1 Jul 16:00</text>
<text x="954.5" y="941.7" textLength="44.5" lengthAdjust="spacingAndGlyphs">5 Jul 00:00</text>
<text x="1018.5" y="941.7" textLength="44.5" lengthAdjust="spacingAndGlyphs">6 Jul 08:00</text>
<text x="1082.5" y="941.7" textLength="44.5" lengthAdjust="spacingAndGlyphs">7 Jul 16:00</text>
<text x="1146.5" y="941.7" textLength="44.5" lengthAdjust="spacingAndGlyphs">9 Jul 00:00</text>
<text x="1210.5" y="941.7" textLength="48.5" lengthAdjust="spacingAndGlyphs">12 Jul 08:00</text>
<text x="1274.5" y="941.7" textLength="48.5" lengthAdjust="spacingAndGlyphs">13 Jul 16:00</text>
<text x="1338.5" y="941.7" textLength="48.5" lengthAdjust="spacingAndGlyphs">15 Jul 00:00</text>
</g>
</svg>
</body></html>
